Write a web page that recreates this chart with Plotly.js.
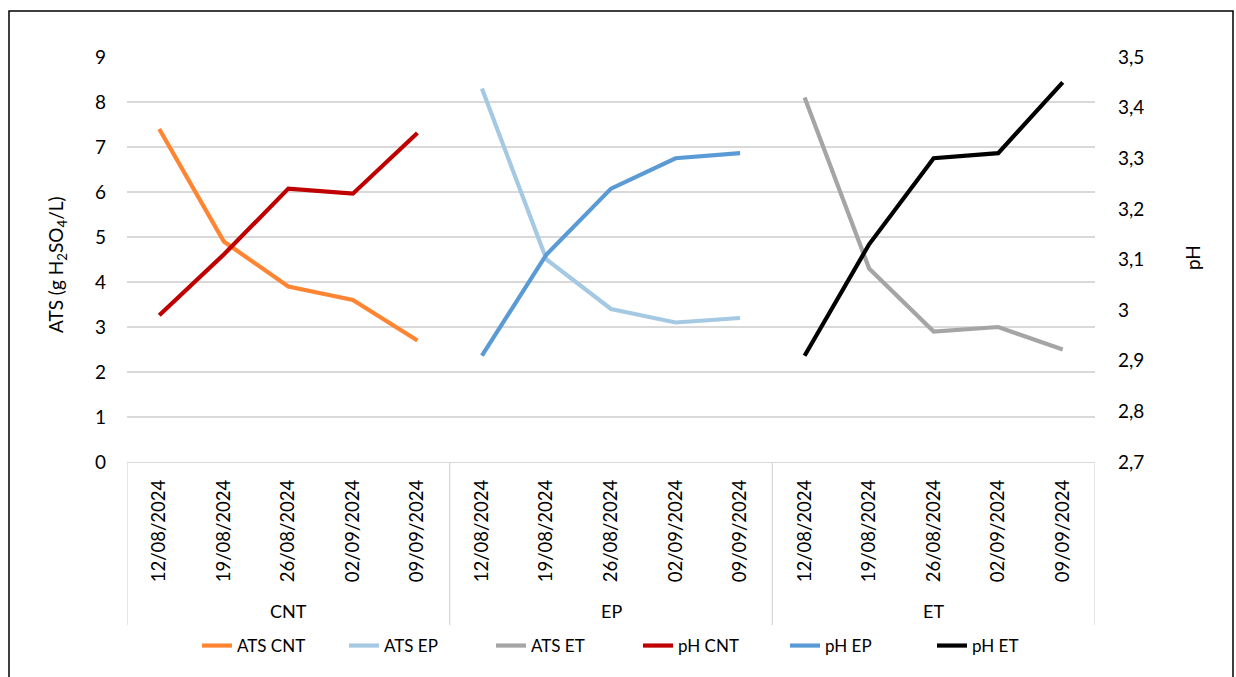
<!DOCTYPE html>
<html>
<head>
<meta charset="utf-8">
<script src="https://cdn.plot.ly/plotly-3.0.1.min.js"></script>
<style>html,body{margin:0;padding:0;background:#fff;}#chart{width:1236px;height:677px;}</style>
</head>
<body>
<div id="chart"></div>
<script>
const groups = ["CNT", "EP", "ET"];
const dates = ["12/08/2024", "19/08/2024", "26/08/2024", "02/09/2024", "09/09/2024"];

const atsCNT = [7.4, 4.9, 3.9, 3.6, 2.7];
const atsEP  = [8.3, 4.5, 3.4, 3.1, 3.2];
const atsET  = [8.1, 4.3, 2.9, 3.0, 2.5];
const phCNT  = [2.99, 3.11, 3.24, 3.23, 3.35];
const phEP   = [2.91, 3.11, 3.24, 3.30, 3.31];
const phET   = [2.91, 3.13, 3.30, 3.31, 3.45];

const seriesNames = ["ATS CNT", "ATS EP", "ATS ET", "pH CNT", "pH EP", "pH ET"];
const seriesColors = ["#FF8533", "#A6C9E3", "#A5A5A5", "#C00000", "#5B9BD5", "#000000"];

const n = dates.length;
const xFor = g => dates.map((d, i) => g * n + i);
const allTickVals = [];
const allTickText = [];
groups.forEach((g, gi) => dates.forEach((d, i) => { allTickVals.push(gi * n + i); allTickText.push(d); }));

const seriesData = [
  {y: atsCNT, g: 0, axis: "y"},
  {y: atsEP,  g: 1, axis: "y"},
  {y: atsET,  g: 2, axis: "y"},
  {y: phCNT,  g: 0, axis: "y2"},
  {y: phEP,   g: 1, axis: "y2"},
  {y: phET,   g: 2, axis: "y2"}
];

const traces = seriesData.map((s, k) => ({
  type: "scatter",
  mode: "lines",
  name: seriesNames[k],
  x: xFor(s.g),
  y: s.y,
  yaxis: s.axis,
  line: {color: seriesColors[k], width: 4.2}
}));

const FONT = "Lato, 'Open Sans', sans-serif";
const L = 127, R = 1095, T = 57, B = 462;
const W = R - L, H = B - T;
const px2x = px => (px - L) / W;
const px2y = py => (B - py) / H;

const shapes = [];
for (let gi = 0; gi <= groups.length; gi++) {
  const xv = gi * n - 0.5;
  shapes.push({type: "line", xref: "x", yref: "paper", x0: xv, x1: xv, y0: 0, y1: px2y(625),
    line: {color: "#D9D9D9", width: 1.3}});
}
shapes.push({type: "rect", xref: "paper", yref: "paper",
  x0: px2x(9), x1: px2x(1233), y0: px2y(690), y1: px2y(11),
  line: {color: "#000000", width: 1.5}, fillcolor: "rgba(0,0,0,0)", layer: "below"});

const annotations = groups.map((g, gi) => ({
  xref: "x", yref: "paper", x: gi * n + (n - 1) / 2, y: px2y(611),
  text: g, showarrow: false, xanchor: "center", yanchor: "middle",
  font: {family: FONT, size: 18, color: "#000"}
}));
annotations.push({xref: "paper", yref: "paper", x: px2x(57), y: px2y(265),
  text: "ATS (g H<sub>2</sub>SO<sub>4</sub>/L)", textangle: -90, showarrow: false,
  xanchor: "center", yanchor: "middle", font: {family: FONT, size: 19, color: "#000"}});
annotations.push({xref: "paper", yref: "paper", x: px2x(1192), y: px2y(258),
  text: "pH", textangle: -90, showarrow: false,
  xanchor: "center", yanchor: "middle", font: {family: FONT, size: 19, color: "#000"}});

const layout = {
  width: 1236, height: 677,
  margin: {l: L, r: 1236 - R, t: T, b: 677 - B},
  paper_bgcolor: "#fff", plot_bgcolor: "#fff",
  separators: ", ",
  showlegend: true,
  legend: {orientation: "h", x: px2x(197), xanchor: "left", y: px2y(646), yanchor: "middle",
    font: {family: FONT, size: 17, color: "#000"}, entrywidth: 102, entrywidthmode: "pixels",
    bgcolor: "rgba(0,0,0,0)"},
  xaxis: {
    automargin: false,
    range: [-0.5, groups.length * n - 0.5],
    tickmode: "array", tickvals: allTickVals, ticktext: allTickText,
    tickangle: -90, ticks: "outside", ticklen: 9, tickcolor: "rgba(0,0,0,0)",
    showgrid: false, zeroline: false, showline: true, linecolor: "#D9D9D9", linewidth: 1.3,
    tickfont: {family: FONT, size: 18.5, color: "#000"}, fixedrange: true
  },
  yaxis: {
    automargin: false,
    range: [0, 9], dtick: 1, showgrid: true, gridcolor: "#D9D9D9", gridwidth: 1.3,
    zeroline: false, showline: false, ticks: "", ticklabelstandoff: 20,
    tickfont: {family: FONT, size: 19, color: "#000"}
  },
  yaxis2: {
    automargin: false,
    overlaying: "y", side: "right", range: [2.7, 3.5], dtick: 0.1,
    showgrid: false, zeroline: false, showline: false, ticks: "", ticklabelstandoff: 22,
    tickfont: {family: FONT, size: 19, color: "#000"}
  },
  shapes: shapes,
  annotations: annotations
};

Plotly.newPlot("chart", traces, layout, {displayModeBar: false, staticPlot: true});
</script>
</body>
</html>
